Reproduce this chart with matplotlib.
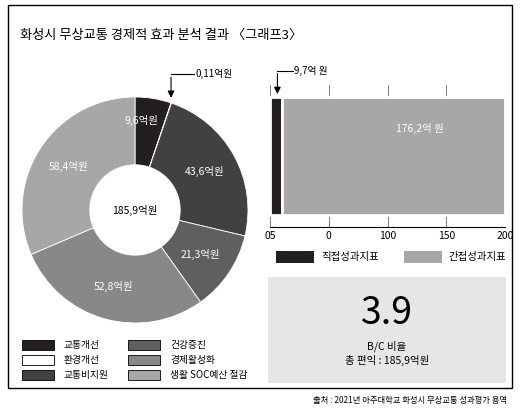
import matplotlib
matplotlib.use("Agg")
import matplotlib.pyplot as plt
from matplotlib.patches import Rectangle
import numpy as np

plt.rcParams['font.family'] = ['Noto Sans CJK KR', 'DejaVu Sans']

pie_labels = ['교통개선', '환경개선', '교통비지원', '건강증진', '경제활성화', '생활 SOC예산 절감']
pie_values = [9.6, 0.11, 43.6, 21.3, 52.8, 58.4]
pie_text = ['9,6억원', '', '43,6억원', '21,3억원', '52,8억원', '58,4억원']
pie_colors = ['#231f20', '#ffffff', '#414143', '#5f5f61', '#88888a', '#a7a7a9']

bar_labels = ['직접성과지표', '간접성과지표']
bar_values = [9.7, 176.2]
bar_colors = ['#231f20', '#a7a7a9']
bar_ticklabels = ['05', '0', '100', '150', '200']

W, H = 521, 412
fig = plt.figure(figsize=(W/100, H/100), dpi=100)
def fx(x): return x / W
def fy(y): return 1 - y / H

fig.patches.append(Rectangle((fx(8), fy(388)), fx(504), 383 / H, transform=fig.transFigure,
                             fill=False, edgecolor='black', lw=1))
fig.text(fx(20), fy(35), '화성시 무상교통 경제적 효과 분석 결과 〈그래프3〉', fontsize=9.5, va='center', fontweight='medium')
fig.text(fx(507), fy(400), '출처 : 2021년 아주대학교 화성시 무상교통 성과평가 용역', fontsize=6, ha='right', va='center')

# donut
R = 113
axp = fig.add_axes([fx(135 - R), fy(210 + R), fx(2 * R), 2 * R / H])
axp.pie(pie_values, colors=pie_colors, startangle=90, counterclock=False,
        wedgeprops=dict(width=0.6, edgecolor='white', linewidth=0.6))
axp.set_xlim(-1, 1); axp.set_ylim(-1, 1)
axp.set_aspect('equal')
tot = sum(pie_values)
ang = 90
for v, t in zip(pie_values, pie_text):
    mid = ang - v / tot * 360 / 2
    ang -= v / tot * 360
    if t:
        r = 0.8 if v < 15 else 0.7
        axp.text(r * np.cos(np.radians(mid)) - (0.07 if v < 15 else 0), r * np.sin(np.radians(mid)), t,
                 ha='center', va='center', color='white', fontsize=7.5)
axp.text(0, 0, '185,9억원', ha='center', va='center', fontsize=7.5)
a = np.radians(90 - 9.6 / tot * 360)
axp.annotate('', xy=(np.cos(a), np.sin(a) + 0.02), xytext=(np.cos(a), 1.2),
             arrowprops=dict(arrowstyle='-|>', color='black', lw=0.8), annotation_clip=False)
axp.plot([np.cos(a), np.cos(a) + 0.2], [1.2, 1.2], color='black', lw=0.8, clip_on=False)
axp.text(np.cos(a) + 0.22, 1.2, '0,11억원', fontsize=7, va='center')

for i, (lab, col) in enumerate(zip(pie_labels, pie_colors)):
    col_i, row = divmod(i, 3)
    x0 = 22 + col_i * 106
    y0 = 345 + row * 15
    fig.patches.append(Rectangle((fx(x0), fy(y0 + 5)), fx(32), 10 / H, transform=fig.transFigure,
                                 facecolor=col, edgecolor='black', lw=0.6))
    fig.text(fx(x0 + 42), fy(y0), lab, fontsize=7, va='center')

# bar
total = sum(bar_values)
axb = fig.add_axes([fx(270), fy(227), fx(235), (227 - 85) / H])
left = 0
for v, c in zip(bar_values, bar_colors):
    axb.barh(0, v, left=left, color=c, height=1, edgecolor='white', linewidth=2)
    left += v
axb.set_xlim(0, total)
axb.set_ylim(-0.6, 0.6)
axb.set_yticks([])
ticks = np.linspace(0, total, len(bar_ticklabels))
axb.set_xticks(ticks)
axb.set_xticklabels(bar_ticklabels, fontsize=7.5)
axb.tick_params(axis='x', length=0, pad=3)
for s in ['top', 'right', 'left']:
    axb.spines[s].set_visible(False)
axb.spines['bottom'].set_linewidth(0.8)
for t in ticks:
    axb.axvline(t, color='#666', lw=0.6, zorder=0)
axb.text(bar_values[0] + bar_values[1] * 0.62, 0.23, '176,2억 원', color='white', fontsize=7.5, ha='center', va='center')
xa = bar_values[0] / 2 + 1
axb.annotate('', xy=(xa, 0.5), xytext=(xa, 0.72),
             arrowprops=dict(arrowstyle='-|>', color='black', lw=0.8), annotation_clip=False)
axb.plot([xa, 18], [0.72, 0.72], color='black', lw=0.8, clip_on=False)
axb.text(19, 0.72, '9,7억 원', fontsize=7, va='center')
for i, (lab, col) in enumerate(zip(bar_labels, bar_colors)):
    x0 = 276 + i * 128
    fig.patches.append(Rectangle((fx(x0), fy(263)), fx(38), 12 / H, transform=fig.transFigure, facecolor=col))
    fig.text(fx(x0 + 45), fy(257), lab, fontsize=7.5, va='center')

fig.patches.append(Rectangle((fx(268), fy(383)), fx(238), 106 / H, transform=fig.transFigure,
                             facecolor='#e6e6e8', edgecolor='none'))
fig.text(fx(387), fy(314), '3.9', fontsize=27, ha='center', va='center', fontweight='medium')
fig.text(fx(387), fy(346), 'B/C 비율', fontsize=7.5, ha='center', va='center')
fig.text(fx(387), fy(360), '총 편익 : 185,9억원', fontsize=7.5, ha='center', va='center')

fig.savefig('out.png', dpi=100, facecolor='white')
